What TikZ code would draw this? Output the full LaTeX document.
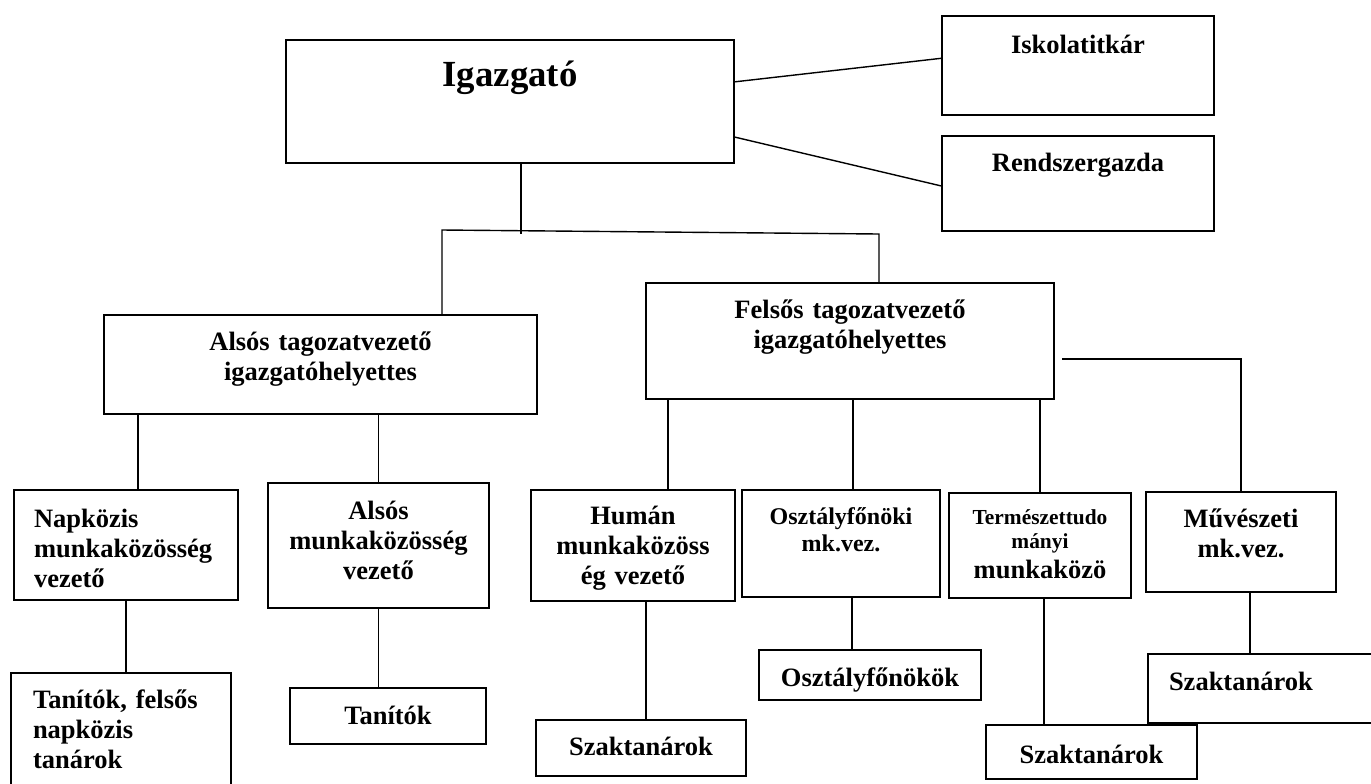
\documentclass[tikz,border=0pt]{standalone}
\usepackage{fontspec}
\setmainfont{Liberation Serif}
\newcommand{\Afont}{\fontsize{13.25}{15.2}\selectfont\bfseries}
\tikzstyle{Abox}=[draw,line width=1pt,inner sep=0pt,anchor=north west,align=center,font=\Afont]
\tikzstyle{Aleft}=[align=left]
\tikzstyle{Aline}=[line width=0.7pt]
\tikzstyle{tree}=[every edge/.style={draw,line width=0.7pt}]
\tikzset{Adim/.style n args={3}{text width=#1,text height=#2,text depth=#3}}
\begin{document}
\begin{tikzpicture}[x=0.5pt,y=-0.5pt]
\useasboundingbox (0,0) rectangle (1371,783);
\clip (0,0) rectangle (1371,783);

\node[Abox,Adim={224pt}{23pt}{38.5pt},font={\fontsize{18.4}{21}\selectfont\bfseries}] (ig) at (285,39) {Igazgató};
\node[Abox,Adim={136pt}{18.5pt}{31pt}] (titk) at (941,15) {Iskolatitkár};
\node[Abox,Adim={136pt}{17.5pt}{30pt}] (rgazda) at (941,135) {Rendszergazda};

\node[Abox,Adim={216.5pt}{17.5pt}{32pt}] (also) at (103,314) {Alsós tagozatvezető\\igazgatóhelyettes};
\node[Abox,Adim={204pt}{17.5pt}{40.5pt}] (felso) at (645,282) {Felsős tagozatvezető\\igazgatóhelyettes};

\node[Abox,Aleft,inner xsep=10pt,Adim={92pt}{18.5pt}{36.5pt}] (napk) at (13,489) {Napközis\\munkaközösség\\vezető};
\node[Abox,Adim={110.5pt}{18pt}{44.5pt}] (amk) at (267,482) {Alsós\\munkaközösség\\vezető};
\node[Abox,Adim={102pt}{17pt}{38.5pt}] (human) at (530,489) {Humán\\munkaközöss\\ég vezető};
\node[Abox,Adim={99pt}{17pt}{36.5pt},font={\fontsize{12}{13.5}\selectfont\bfseries}] (osztv) at (741,489) {Osztályfőnöki\\mk.vez.};
\node[Abox,Adim={91pt}{15.5pt}{37pt}] (term) at (948,492) {{\fontsize{10.7}{12}\selectfont Természettudo\\[-3pt]mányi}\\munkaközö};
\node[Abox,Adim={95pt}{17.5pt}{32.5pt}] (muv) at (1145,491) {Művészeti\\mk.vez.};

\node[Abox,Aleft,inner xsep=11pt,Adim={88pt}{17.5pt}{46.5pt}] (tan1) at (10,672) {Tanítók, felsős\\napközis\\tanárok};
\node[Abox,Adim={98pt}{18pt}{10pt}] (tan2) at (289,687) {Tanítók};
\node[Abox,Adim={105pt}{17.5pt}{10.5pt}] (szak1) at (535,719) {Szaktanárok};
\node[Abox,Adim={111pt}{18pt}{7pt}] (ofok) at (758,649) {Osztályfőnökök};
\node[Abox,Adim={105.5pt}{19pt}{8pt}] (szak2) at (985,724) {Szaktanárok};
\node[Abox,Aleft,inner xsep=10.5pt,Adim={100.5pt}{18pt}{16.5pt}] (szak3) at (1147,653) {Szaktanárok};

\coordinate (busL) at (442,230);
\coordinate (busR) at (879,234);
\coordinate (igS) at ([xshift=5.5pt]ig.south);
\coordinate (napkN) at ([xshift=6pt]napk.north);
\coordinate (humN) at ([xshift=17.5pt]human.north);
\coordinate (humS) at ([xshift=6.5pt]human.south);
\coordinate (osztN) at ([xshift=6pt]osztv.north);
\coordinate (osztS) at ([xshift=5.5pt]osztv.south);
\coordinate (termS) at ([xshift=2pt]term.south);
\coordinate (muvS) at ([xshift=4.5pt]muv.south);
\coordinate (felE) at ([xshift=3.5pt,yshift=-9pt]felso.east);

\path[tree]
 (ig.5) edge (titk.177)
 (ig.-9) edge (rgazda.181)
 (igS) edge (igS |- busR)
;
\draw[Aline] (busL |- also.north) -- (busL) -- (busR) -- (busR |- felso.north);
\draw[Aline] (felE) -- (felE -| muv.north) -- (muv.north);

\path[tree]
 (napkN |- also.south) edge (napkN)
 (also.south -| amk.north) edge (amk.north)
 (humN |- felso.south) edge (humN)
 (osztN |- felso.south) edge (osztN)
 (term.north |- felso.south) edge (term.north)
;
\path[tree]
 (napk.south) edge (napk.south |- tan1.north)
 (amk.south) edge (amk.south |- tan2.north)
 (humS) edge (humS |- szak1.north)
 (osztS) edge (osztS |- ofok.north)
 (termS) edge (termS |- szak2.north)
 (muvS) edge (muvS |- szak3.north)
;

\end{tikzpicture}
\end{document}
